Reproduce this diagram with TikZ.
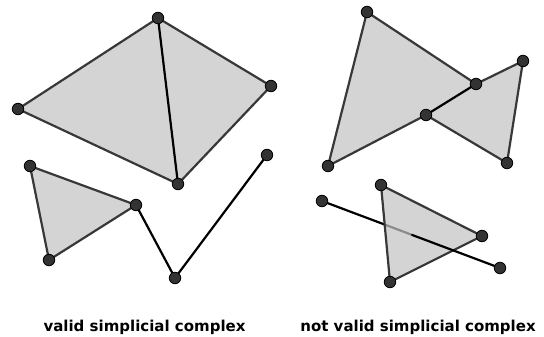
\documentclass[tikz,border=0pt]{standalone}
\usepackage{fontspec}
\setmainfont{DejaVu Sans}
\begin{document}
\begin{tikzpicture}[x=1pt,y=-1pt,
  vtx/.style={circle,fill=black!80,draw=black,line width=0.8pt,inner sep=0pt,minimum size=11.5pt},
  face/.style={fill=black!17,draw=none},
  fedge/.style={draw=black!78,line width=2.2pt,line cap=round},
  bedge/.style={draw=black,line width=2.2pt,line cap=round},
  lbl/.style={font=\bfseries\fontsize{15}{18}\selectfont,anchor=base}]
\useasboundingbox (0,0) rectangle (544,337);
% left
\coordinate (A) at (158,18);
\coordinate (B) at (18,109);
\coordinate (C) at (271,86);
\coordinate (D) at (178,184);
\coordinate (E) at (30,166);
\coordinate (F) at (136,205);
\coordinate (G) at (49,260);
\coordinate (H) at (175,278);
\coordinate (I) at (267,155);
\fill[face] (A) -- (B) -- (D) -- (C) -- cycle;
\fill[face] (E) -- (F) -- (G) -- cycle;
\draw[fedge] (A) -- (B) -- (D) -- (C) -- cycle;
\draw[fedge] (E) -- (F) -- (G) -- cycle;
\draw[bedge] (A) -- (D);
\draw[bedge] (F) -- (H) -- (I);
% right
\coordinate (J) at (367,12);
\coordinate (K) at (328,166);
\coordinate (L) at (476,84);
\coordinate (M) at (426,115);
\coordinate (N) at (523,61);
\coordinate (O) at (507,163);
\coordinate (P) at (381,185);
\coordinate (Q) at (482,236);
\coordinate (R) at (390,282);
\coordinate (S) at (322,201);
\coordinate (T) at (500,268);
\coordinate (X1) at (384,224.3);
\coordinate (X2) at (412,234.9);
\fill[face] (J) -- (K) -- (M) -- (L) -- cycle;
\fill[face] (M) -- (L) -- (N) -- (O) -- cycle;
\draw[fedge] (L) -- (J) -- (K) -- (M);
\draw[fedge] (L) -- (N) -- (O) -- (M);
\draw[bedge] (M) -- (L);
\draw[bedge] (S) -- (X1);
\fill[face] (P) -- (Q) -- (R) -- cycle;
\draw[draw=black!45,line width=2.2pt] (X1) -- (X2);
\draw[fedge] (P) -- (Q) -- (R) -- cycle;
\draw[bedge] (X2) -- (T);
% vertices
\foreach \v in {A,B,C,D,E,F,G,H,I,J,K,L,M,N,O,P,Q,R,S,T}
  \node[vtx] (n\v) at (\v) {};
\node[lbl] (t1) at (144.5,331) {valid simplicial complex};
\node[lbl] (t2) at (418,331) {not valid simplicial complex};
\end{tikzpicture}
\end{document}
